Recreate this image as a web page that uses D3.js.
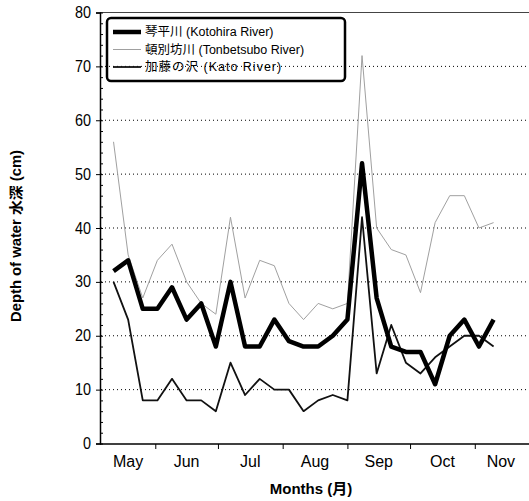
<!DOCTYPE html>
<meta charset="utf-8">
<style>
body { margin: 0; background: #fff; }
svg { display: block; }
.tick text, .lbl { font-family: "Liberation Sans", Arial, "Noto Sans CJK JP", sans-serif; }
.grid line { stroke: #000; stroke-dasharray: 1,3; stroke-width: 1; }
.legend text { font-family: "Liberation Sans", Arial, "Noto Sans CJK JP", sans-serif; font-size: 12.5px; fill: #000; }
</style>
<svg width="529" height="501"></svg>
<script src="https://cdn.jsdelivr.net/npm/d3@7"></script>
<script>

// sampling dates (weekly)
var dates = ["2007-05-12","2007-05-19","2007-05-26","2007-06-02","2007-06-09","2007-06-16",
  "2007-06-23","2007-06-30","2007-07-07","2007-07-14","2007-07-21","2007-07-28","2007-08-04",
  "2007-08-11","2007-08-18","2007-08-25","2007-09-01","2007-09-08","2007-09-15","2007-09-22",
  "2007-09-29","2007-10-06","2007-10-13","2007-10-20","2007-10-27","2007-11-03","2007-11-10"];

var kotohira   = [32,34,25,25,29,23,26,18,30,18,18,23,19,18,18,20,23,52,27,18,17,17,11,20,23,18,23];
var tonbetsubo = [56,35,27,34,37,30,26,24,42,27,34,33,26,23,26,25,26,72,40,36,35,28,41,46,46,40,41];
var kato       = [30,23,8,8,12,8,8,6,15,9,12,10,10,6,8,9,8,42,13,22,15,13,16,18,20,20,18];

var months = ["May","Jun","Jul","Aug","Sep","Oct","Nov"];
var yTicks = [0,10,20,30,40,50,60,70,80];

var series = [
  {name: "琴平川 (Kotohira River)", values: kotohira, color: "#000", width: 4.5},
  {name: "頓別坊川 (Tonbetsubo River)", values: tonbetsubo, color: "#a0a0a0", width: 1},
  {name: "加藤の沢 (Kato River)", values: kato, color: "#111", width: 1.8}
];

var parse = d3.timeParse("%Y-%m-%d");
var svg = d3.select("svg");

var x = d3.scaleTime()
    .domain([parse("2007-05-06"), parse("2007-11-26")])
    .range([101, 527]);

var y = d3.scaleLinear()
    .domain([0, 80])
    .range([443.5, 12.5]);

// gridlines
svg.append("g")
    .attr("class", "grid")
  .selectAll("line")
    .data(yTicks.filter(function(d) { return d > 0 && d < 80; }))
  .enter().append("line")
    .attr("x1", 101).attr("x2", 527)
    .attr("y1", function(d) { return y(d); })
    .attr("y2", function(d) { return y(d); });

// top frame
svg.append("line")
    .attr("x1", 100).attr("x2", 529)
    .attr("y1", y(80)).attr("y2", y(80))
    .attr("stroke", "#444").attr("stroke-width", 1);

// y axis: major ticks outward, minor ticks inward
var yAxis = svg.append("g")
    .attr("transform", "translate(100,0)")
    .call(d3.axisLeft(y).tickValues(yTicks).tickSize(4).tickPadding(5));
yAxis.select(".domain").attr("stroke-width", 1.5);
yAxis.selectAll(".tick text").attr("font-size", 16).attr("fill", "#000")
    .attr("transform", "scale(0.9,1)").attr("x", -10);

svg.append("g")
    .attr("transform", "translate(100,0)")
    .call(d3.axisRight(y).ticks(40).tickSize(3).tickFormat(""))
    .select(".domain").remove();

// x axis
var xAxis = svg.append("g")
    .attr("transform", "translate(0,444)")
    .call(d3.axisBottom(x).ticks(d3.timeMonth.every(1)).tickSize(5).tickFormat(""));
xAxis.select(".domain").attr("stroke-width", 1.5).attr("d", "M100,0H529");
xAxis.selectAll(".tick").filter(function(d) { return d < parse("2007-06-01"); }).remove();

var d0 = x.domain()[0], d1 = x.domain()[1];
svg.append("g").selectAll("text")
    .data(months)
  .enter().append("text")
    .attr("class", "lbl")
    .attr("x", function(m, i) {
      var a = new Date(2007, 4 + i, 1), b = new Date(2007, 5 + i, 1);
      return (x(a < d0 ? d0 : a) + x(b > d1 ? d1 : b)) / 2;
    })
    .attr("y", 467)
    .attr("text-anchor", "middle")
    .attr("font-size", 16)
    .text(function(m) { return m; });

// axis titles
svg.append("text")
    .attr("class", "lbl")
    .attr("x", 311).attr("y", 494)
    .attr("text-anchor", "middle")
    .attr("font-size", 15)
    .attr("font-weight", "bold")
    .text("Months (月)");

svg.append("text")
    .attr("class", "lbl")
    .attr("transform", "translate(21,236) rotate(-90)")
    .attr("text-anchor", "middle")
    .attr("font-size", 14)
    .attr("font-weight", "bold")
    .attr("textLength", 172)
    .attr("lengthAdjust", "spacingAndGlyphs")
    .text("Depth of water 水深 (cm)");

// lines
var line = d3.line()
    .x(function(d, i) { return x(parse(dates[i])); })
    .y(function(d) { return y(d); });

// Kotohira drawn last so it sits on top
[series[1], series[2], series[0]].forEach(function(s) {
  svg.append("path")
      .datum(s.values)
      .attr("fill", "none")
      .attr("stroke", s.color)
      .attr("stroke-width", s.width)
      .attr("stroke-linejoin", "round")
      .attr("d", line);
});

// legend
var legend = svg.append("g").attr("class", "legend");
legend.append("rect")
    .attr("x", 107).attr("y", 18)
    .attr("width", 238).attr("height", 63)
    .attr("rx", 4)
    .attr("fill", "none")
    .attr("stroke", "#000")
    .attr("stroke-width", 2.5);

var item = legend.selectAll(".item")
    .data(series)
  .enter().append("g")
    .attr("transform", function(d, i) { return "translate(0," + (32 + i * 17.5) + ")"; });

item.append("line")
    .attr("x1", 113).attr("x2", 141)
    .attr("stroke", function(d) { return d.color; })
    .attr("stroke-width", function(d) { return d.width; });

item.append("text")
    .attr("x", 145)
    .attr("dy", "0.35em")
    .attr("font-size", 13)
    .attr("letter-spacing", function(d, i) { return i == 2 ? 1 : 0; })
    .text(function(d) { return d.name; });

</script>
